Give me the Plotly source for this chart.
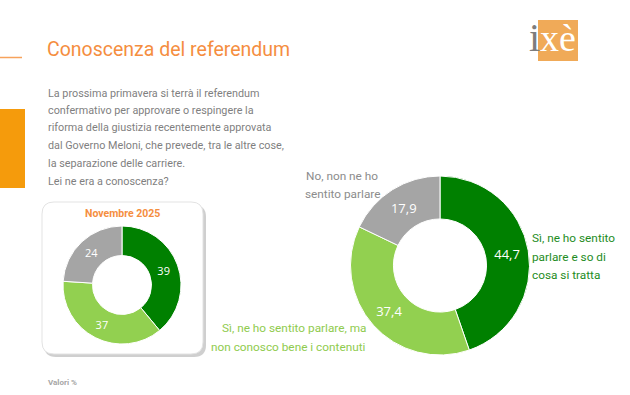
import plotly.graph_objects as go

W, H = 630, 395

# ---- data ----
categories = ["Sì, ne ho sentito parlare e so di cosa si tratta",
              "Sì, ne ho sentito parlare, ma non conosco bene i contenuti",
              "No, non ne ho sentito parlare"]
current_values = [44.7, 37.4, 17.9]
nov2025_values = [39, 37, 24]
slice_colors = ["#008000", "#92D050", "#A5A5A5"]

title_text = "Conoscenza del referendum"
question_lines = ["La prossima primavera si terrà il referendum",
                  "confermativo per approvare o respingere la",
                  "riforma della giustizia recentemente approvata",
                  "dal Governo Meloni, che prevede, tra le altre cose,",
                  "la separazione delle carriere."]
question_tail = "Lei ne era a conoscenza?"
small_title = "Novembre 2025"
note_text = "Valori %"
label_green = ["Sì, ne ho sentito", "parlare e so di", "cosa si tratta"]
label_gray = ["No, non ne ho", "sentito parlare"]
label_light = ["Sì, ne ho sentito parlare, ma", "non conosco bene i contenuti"]

FONT = "Roboto, Liberation Sans, sans-serif"
NUMFONT = "Open Sans, DejaVu Sans, sans-serif"
SERIF = "Liberation Serif, DejaVu Serif, serif"


def px(x):
    return x / W


def py(y):
    return 1 - y / H


fig = go.Figure()

# big donut
fig.add_trace(go.Pie(
    labels=categories, values=current_values, sort=False, direction="clockwise",
    rotation=0, hole=0.52,
    marker=dict(colors=slice_colors, line=dict(color="white", width=1)),
    texttemplate="%{value:.1f}", textposition="inside", insidetextorientation="horizontal",
    textfont=dict(color="white", size=13, family=NUMFONT),
    domain=dict(x=[px(350), px(530)], y=[py(355), py(176)]),
    showlegend=False, hoverinfo="skip"))

# small donut
fig.add_trace(go.Pie(
    labels=categories, values=nov2025_values, sort=False, direction="clockwise",
    rotation=0, hole=0.5,
    marker=dict(colors=slice_colors, line=dict(color="white", width=1)),
    texttemplate="%{value}", textposition="inside", insidetextorientation="horizontal",
    textfont=dict(color="white", size=11, family=NUMFONT),
    domain=dict(x=[px(63), px(181)], y=[py(344), py(226)]),
    showlegend=False, hoverinfo="skip"))

shapes = []


def rounded(x0, y0, x1, y1, r):
    X = lambda v: f"{px(v):.5f}"
    Y = lambda v: f"{py(v):.5f}"
    return (f"M {X(x0+r)},{Y(y0)} L {X(x1-r)},{Y(y0)} Q {X(x1)},{Y(y0)} {X(x1)},{Y(y0+r)} "
            f"L {X(x1)},{Y(y1-r)} Q {X(x1)},{Y(y1)} {X(x1-r)},{Y(y1)} "
            f"L {X(x0+r)},{Y(y1)} Q {X(x0)},{Y(y1)} {X(x0)},{Y(y1-r)} "
            f"L {X(x0)},{Y(y0+r)} Q {X(x0)},{Y(y0)} {X(x0+r)},{Y(y0)} Z")


shapes.append(dict(type="path", xref="paper", yref="paper", path=rounded(44, 205, 206, 357, 12),
                   fillcolor="#cfcfcf", line=dict(width=0), layer="below"))
shapes.append(dict(type="path", xref="paper", yref="paper", path=rounded(42, 202, 203, 354, 12),
                   fillcolor="white", line=dict(color="#e3e3e3", width=1), layer="below"))
shapes.append(dict(type="line", xref="paper", yref="paper", x0=px(0), x1=px(22), y0=py(57.5), y1=py(57.5),
                   line=dict(color="#F7A35C", width=1.5)))
shapes.append(dict(type="rect", xref="paper", yref="paper", x0=px(0), x1=px(25), y0=py(188), y1=py(109),
                   fillcolor="#F59B0C", line=dict(width=0)))
shapes.append(dict(type="rect", xref="paper", yref="paper", x0=px(538), x1=px(578), y0=py(61), y1=py(20),
                   fillcolor="#F0AA58", line=dict(width=0)))

ann = []
ann.append(dict(text=title_text, x=px(45), y=py(49), xanchor="left", yanchor="middle",
                font=dict(family=FONT, size=19.5, color="#F58E3F")))
ann.append(dict(text="i", x=px(534), y=py(38), xanchor="center", yanchor="middle",
                font=dict(family=SERIF, size=40, color="#7d7d7d")))
ann.append(dict(text="xè", x=px(558), y=py(38), xanchor="center", yanchor="middle",
                font=dict(family=SERIF, size=38, color="white")))

line_ys = [93, 110.5, 128, 145.5, 163]
for t, yy in zip(question_lines, line_ys):
    ann.append(dict(text=t, x=px(46), y=py(yy), xanchor="left", yanchor="middle",
                    font=dict(family=FONT, size=10.8, color="#7f7f7f")))
ann.append(dict(text=question_tail, x=px(46), y=py(181), xanchor="left", yanchor="middle",
                font=dict(family=FONT, size=10.8, color="#7f7f7f")))

ann.append(dict(text=f"<b>{small_title}</b>", x=px(122), y=py(213), xanchor="center", yanchor="middle",
                font=dict(family=FONT, size=10.5, color="#F58E3F")))

for t, yy in zip(label_green, [238, 256.5, 275]):
    ann.append(dict(text=t, x=px(530), y=py(yy), xanchor="left", yanchor="middle",
                    font=dict(family=FONT, size=11.8, color="#1E8C1E")))
for t, yy in zip(label_gray, [176, 194]):
    ann.append(dict(text=t, x=px(342), y=py(yy), xanchor="center", yanchor="middle",
                    font=dict(family=FONT, size=11.8, color="#8c8c8c")))
for t, yy in zip(label_light, [328, 347]):
    ann.append(dict(text=t, x=px(368), y=py(yy), xanchor="right", yanchor="middle",
                    font=dict(family=FONT, size=11.8, color="#8FCB4E")))

ann.append(dict(text=f"<b>{note_text}</b>", x=px(46), y=py(382), xanchor="left", yanchor="middle",
                font=dict(family=FONT, size=8, color="#a6a6a6")))

for a in ann:
    a.update(xref="paper", yref="paper", showarrow=False)

fig.update_layout(width=W, height=H, margin=dict(l=0, r=0, t=0, b=0),
                  paper_bgcolor="white", plot_bgcolor="white",
                  separators=",.", shapes=shapes, annotations=ann)

fig.write_html("out.html", config={"displayModeBar": False},
               post_script="document.body.style.margin='0';")
